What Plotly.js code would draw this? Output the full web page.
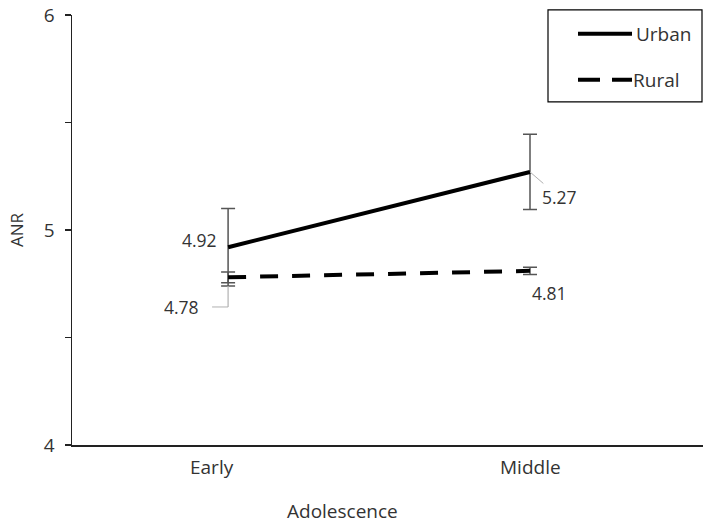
<!DOCTYPE html>
<html>
<head>
<meta charset="utf-8">
<script src="https://cdn.plot.ly/plotly-3.0.1.min.js"></script>
<style>html,body{margin:0;padding:0;background:#fff;}#chart{width:703px;height:523px;}</style>
</head>
<body>
<div id="chart"></div>
<script>
const categories = ['Early', 'Middle'];
const seriesNames = ['Urban', 'Rural'];
const urbanValues = [4.92, 5.27];
const urbanErrors = [0.18, 0.175];
const ruralValues = [4.78, 4.81];
const ruralErrors = [0.025, 0.017];
const xAxisTitle = 'Adolescence';
const yAxisTitle = 'ANR';
const yTickVals = [4, 5, 6];

const FONT = '"Open Sans", "DejaVu Sans", sans-serif';
const TXT = '#333333';
const xIdx = categories.map((c, i) => i);

const traces = [
  {
    x: xIdx, y: urbanValues, name: seriesNames[0], type: 'scatter', mode: 'lines',
    line: {color: '#000', width: 4},
    error_y: {type: 'data', array: urbanErrors, visible: true, color: '#555', thickness: 1.5, width: 7},
    showlegend: false
  },
  {
    x: xIdx, y: ruralValues, name: seriesNames[1], type: 'scatter', mode: 'lines',
    line: {color: '#000', width: 4, dash: '18px,14px'},
    error_y: {type: 'data', array: ruralErrors, visible: true, color: '#555', thickness: 1.5, width: 7},
    showlegend: false
  }
];

const annFont = {family: FONT, size: 17.5, color: TXT};
const bigFont = {family: FONT, size: 19, color: TXT};
const annotations = [
  {x: 0, y: urbanValues[0], xref: 'x', yref: 'y', text: urbanValues[0].toFixed(2), showarrow: false,
   xanchor: 'right', yanchor: 'middle', xshift: -9, yshift: 7, font: annFont},
  {x: 1, y: urbanValues[1], xref: 'x', yref: 'y', text: urbanValues[1].toFixed(2), showarrow: true,
   arrowhead: 0, arrowwidth: 1, arrowcolor: '#b0b0b0', ax: 29, ay: 25, standoff: 0, font: annFont},
  {x: 0, y: urbanValues[0] - urbanErrors[0] - 0.098, xref: 'x', yref: 'y', text: ruralValues[0].toFixed(2), showarrow: true,
   arrowhead: 0, arrowwidth: 1, arrowcolor: '#b0b0b0', ax: -47, ay: 0, standoff: 0, startstandoff: 12, font: annFont},
  {x: 1, y: ruralValues[1], xref: 'x', yref: 'y', text: ruralValues[1].toFixed(2), showarrow: false,
   xanchor: 'center', yanchor: 'middle', xshift: 19, yshift: -22, font: annFont},
  // x tick labels
  {x: 0, y: 0, xref: 'x', yref: 'paper', text: categories[0], showarrow: false, xanchor: 'center', yanchor: 'top',
   xshift: -16, yshift: -7, font: bigFont},
  {x: 1, y: 0, xref: 'x', yref: 'paper', text: categories[1], showarrow: false, xanchor: 'center', yanchor: 'top',
   xshift: 0, yshift: -7, font: bigFont},
  // x axis title
  {x: (342 - 72) / 631, y: 0, xref: 'paper', yref: 'paper', text: xAxisTitle, showarrow: false, xanchor: 'center', yanchor: 'middle',
   yshift: -66, font: bigFont},
  // legend labels
  {x: (634 - 72) / 631, y: 1.012 - 24/430, xref: 'paper', yref: 'paper', text: seriesNames[0], showarrow: false, xanchor: 'left', yanchor: 'middle',
   font: bigFont},
  {x: (631 - 72) / 631, y: 1.012 - 70/430, xref: 'paper', yref: 'paper', text: seriesNames[1], showarrow: false, xanchor: 'left', yanchor: 'middle',
   font: bigFont}
];

const shapes = [
  // vertical part of 4.78 leader
  {type: 'line', xref: 'x', yref: 'y', x0: 0, x1: 0, y0: urbanValues[0] - urbanErrors[0], y1: urbanValues[0] - urbanErrors[0] - 0.098,
   line: {color: '#b0b0b0', width: 1.2}},
  // legend box
  {type: 'rect', xref: 'paper', yref: 'paper', x0: (548 - 72) / 631, x1: (702 - 72) / 631, y0: 1.012 - 92/430, y1: 1.012,
   line: {color: '#000', width: 1.2}, fillcolor: 'rgba(0,0,0,0)'},
  {type: 'line', xref: 'paper', yref: 'paper', x0: (578 - 72) / 631, x1: (632 - 72) / 631, y0: 1.012 - 24/430, y1: 1.012 - 24/430,
   line: {color: '#000', width: 4}},
  {type: 'line', xref: 'paper', yref: 'paper', x0: (578 - 72) / 631, x1: (632 - 72) / 631, y0: 1.012 - 70/430, y1: 1.012 - 70/430,
   line: {color: '#000', width: 4, dash: '22px,12px'}}
];

const layout = {
  width: 703, height: 523,
  margin: {l: 72, r: 0, t: 15, b: 78, pad: 0},
  paper_bgcolor: '#fff', plot_bgcolor: '#fff',
  font: {family: FONT, size: 16, color: TXT},
  showlegend: false,
  xaxis: {
    type: 'linear', range: [-0.517, 1.573], showgrid: false, zeroline: false,
    showline: true, linecolor: '#222', linewidth: 1.5, ticks: '', showticklabels: false
  },
  yaxis: {
    range: [4, 6], tickvals: yTickVals, showgrid: false, zeroline: false,
    showline: true, linecolor: '#222', linewidth: 1.5, ticks: 'outside', ticklen: 6, tickwidth: 1.2, tickcolor: '#222',
    minor: {dtick: 0.5, tick0: 4, ticks: 'outside', ticklen: 6, tickwidth: 1.2, tickcolor: '#222', showgrid: false},
    tickfont: {family: FONT, size: 19, color: TXT},
    ticklabelstandoff: 6,
    title: {text: yAxisTitle, font: {family: FONT, size: 17, color: TXT}, standoff: 16}
  },
  annotations: annotations,
  shapes: shapes
};

Plotly.newPlot('chart', traces, layout, {displayModeBar: false, staticPlot: true});
</script>
</body>
</html>
